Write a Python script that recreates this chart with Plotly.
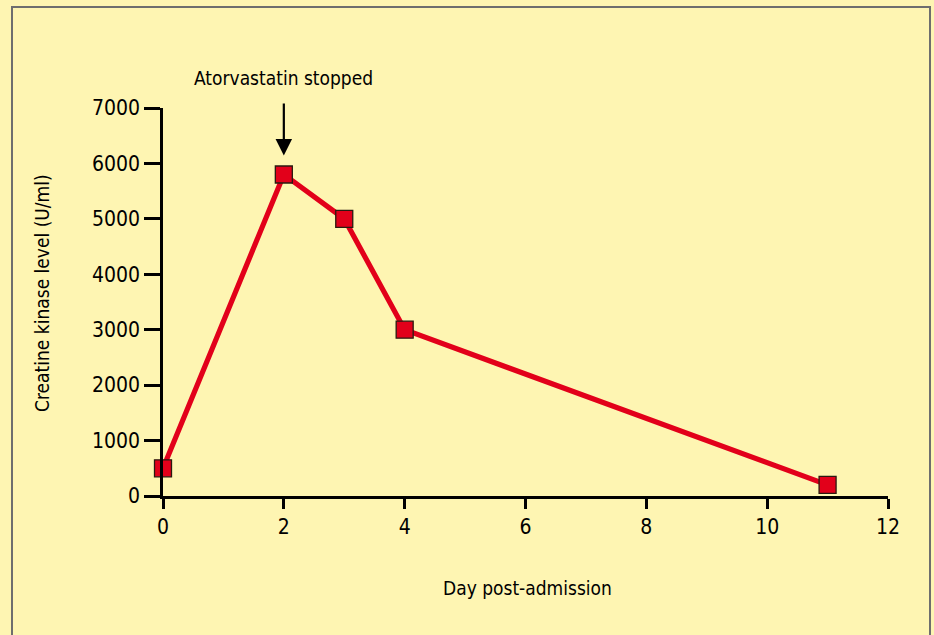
import plotly.graph_objects as go

days = [0, 2, 3, 4, 11]
ck_levels = [500, 5800, 5000, 3000, 200]
x_ticks = [0, 2, 4, 6, 8, 10, 12]
y_ticks = [0, 1000, 2000, 3000, 4000, 5000, 6000, 7000]

FONT = "DejaVu Sans Condensed, Liberation Sans Narrow, Arial Narrow, sans-serif"
BG = "#FEF5B2"

fig = go.Figure()
fig.add_trace(go.Scatter(
    x=days, y=ck_levels, mode="lines+markers",
    line=dict(color="#E2001A", width=5.2),
    marker=dict(symbol="square", size=17, color="#E2001A",
                line=dict(color="#2A1A10", width=1.3)),
    cliponaxis=False, showlegend=False,
))

L, R, T, B = 163, 46, 108, 139
W, H = 934, 635
pw, ph = W - L - R, H - T - B

def px(xp):
    return (xp - L) / pw

def py(yp):
    return (H - B - yp) / ph

fig.add_shape(type="rect", xref="paper", yref="paper",
              x0=px(12), x1=px(930), y0=py(645), y1=py(7),
              line=dict(color="#6E6E6E", width=2), fillcolor="rgba(0,0,0,0)", layer="below")

fig.add_annotation(x=2, y=5800, ax=2, ay=7110, xref="x", yref="y", axref="x", ayref="y",
                   text="", showarrow=True, arrowhead=2, arrowsize=1.5, arrowwidth=2.2,
                   arrowcolor="black", standoff=19)
fig.add_annotation(x=2, y=py(78), xref="x", yref="paper", xanchor="center", yanchor="middle",
                   text="Atorvastatin stopped", showarrow=False,
                   font=dict(family=FONT, size=19, color="black"))
fig.add_annotation(x=px(42), y=py(293), xref="paper", yref="paper", xanchor="center", yanchor="middle",
                   text="Creatine kinase level (U/ml)", textangle=-90, showarrow=False,
                   font=dict(family=FONT, size=19, color="black"))
fig.add_annotation(x=px(527), y=py(588), xref="paper", yref="paper", xanchor="center", yanchor="middle",
                   text="Day post-admission", showarrow=False,
                   font=dict(family=FONT, size=19, color="black"))

fig.update_layout(
    width=W, height=H,
    margin=dict(l=L, r=R, t=T, b=B, pad=0),
    paper_bgcolor=BG, plot_bgcolor=BG,
    font=dict(family=FONT, size=21, color="black"),
    xaxis=dict(range=[0, 12], tickvals=x_ticks, ticktext=[str(v) for v in x_ticks],
               showgrid=False, zeroline=False, showline=True, linecolor="black", linewidth=2.5,
               ticks="outside", ticklen=10, tickwidth=2.5, tickcolor="black",
               tickfont=dict(family=FONT, size=21, color="black")),
    yaxis=dict(range=[0, 7000], tickvals=y_ticks, ticktext=[str(v) for v in y_ticks],
               showgrid=False, zeroline=False, showline=True, linecolor="black", linewidth=2.5,
               ticks="outside", ticklen=16, tickwidth=2.5, tickcolor="black",
               tickfont=dict(family=FONT, size=21, color="black")),
)

fig.write_html("out.html", config={"displayModeBar": False},
               post_script="document.body.style.margin='0';document.body.style.overflow='hidden';")
